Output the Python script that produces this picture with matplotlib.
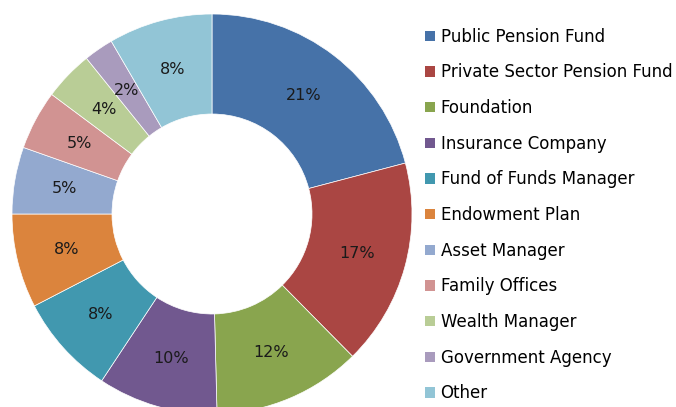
import matplotlib.pyplot as plt
from matplotlib.patches import Patch

# investor types and their share of the total (%)
categories = ['Public Pension Fund', 'Private Sector Pension Fund', 'Foundation',
              'Insurance Company', 'Fund of Funds Manager', 'Endowment Plan',
              'Asset Manager', 'Family Offices', 'Wealth Manager',
              'Government Agency', 'Other']
shares = [20.9, 16.7, 12.0, 9.7, 8.1, 7.6, 5.4, 4.8, 4.0, 2.4, 8.4]
colors = ['#4672A8', '#AA4643', '#89A54E', '#71588F', '#4198AF', '#DB843D',
          '#93A9CF', '#D19392', '#B9CD96', '#A99BBD', '#92C5D6']

W, H = 676, 407
fig = plt.figure(figsize=(W / 100, H / 100), dpi=100)

# pie centre at (212, 193) px from bottom-left, radius 200 px
cx, cy, r = 212, 193, 200
ax = fig.add_axes([(cx - r) / W, (cy - r) / H, 2 * r / W, 2 * r / H])

wedges, texts, autotexts = ax.pie(
    shares, colors=colors, startangle=90, counterclock=False, radius=1,
    autopct=lambda p: '%d%%' % round(p), pctdistance=0.75,
    wedgeprops=dict(width=0.5, edgecolor='white', linewidth=0.5),
    textprops=dict(fontsize=11.5, color='#1a1a1a'))
ax.set_xlim(-1, 1)
ax.set_ylim(-1, 1)
ax.set_aspect('equal')
ax.axis('off')

handles = [Patch(facecolor=c, edgecolor='none') for c in colors]
fig.legend(handles, categories, loc='upper left',
           bbox_to_anchor=(418 / W, 1 - 21 / H), frameon=False,
           fontsize=12, handlelength=0.6, handleheight=0.6,
           handletextpad=0.35, labelspacing=1.06, borderaxespad=0)

fig.savefig('out.png', dpi=100)
